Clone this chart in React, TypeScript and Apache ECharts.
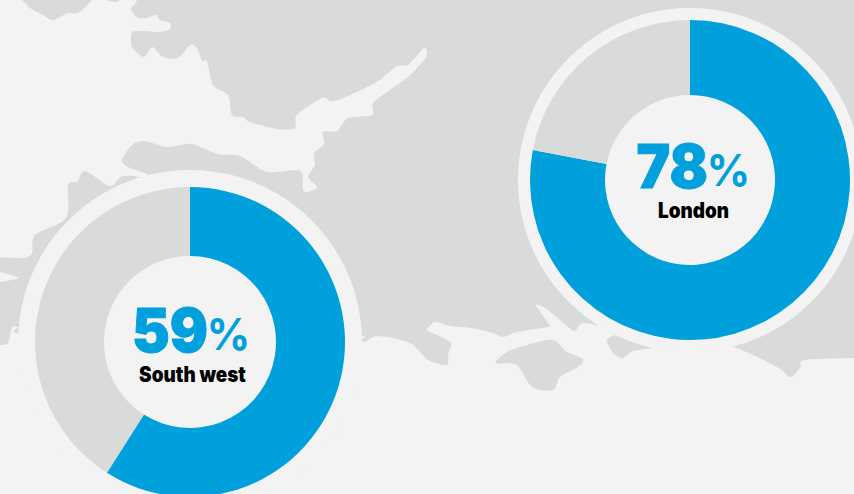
import React, { useEffect, useRef } from "react";
import * as echarts from "echarts";

const regions = ["London", "South west"];
const shares = [78, 59];
const rest = [22, 41];

const BG = "#f3f3f3";
const LAND = "#d9dbda";
const BLUE = "#00a0dd";

type P = [number, number];

const mainland: P[] = [
  [137, -20], [137, 0], [131, 9], [138, 18], [147, 18], [156, 15], [160, 20], [170, 23], [170, 29], [160, 32], [143, 31], [132, 32],
  [132, 47], [144, 57], [152, 47], [163, 57], [178, 58], [190, 45], [197, 48], [202, 61], [207, 61], [213, 85], [228, 95], [232, 115],
  [243, 117], [250, 122], [277, 129], [295, 128], [297, 115], [322, 98], [335, 101], [375, 83], [397, 66], [408, 65], [424, 48], [426, 57],
  [408, 77], [390, 90], [373, 103], [372, 115], [348, 118], [337, 131], [323, 132], [324, 144], [314, 153], [315, 165], [308, 177],
  [317, 187], [308, 192], [303, 190], [300, 171], [267, 172], [240, 156], [217, 154], [192, 144], [167, 147], [145, 141], [132, 145],
  [122, 160], [128, 167], [145, 173], [150, 178], [123, 176], [110, 186], [85, 171], [77, 182], [68, 185], [66, 218], [35, 235], [32, 253],
  [23, 258], [0, 257], [-10, 257], [-10, 272], [0, 272], [18, 278], [0, 282], [-10, 282], [-10, 345], [0, 345], [8, 343], [12, 328], [18, 327],
  [40, 335], [340, 335], [360, 340], [365, 342], [378, 336], [410, 343], [428, 360], [447, 365], [448, 355], [451, 343], [437, 335], [427, 330],
  [435, 322], [450, 326], [472, 328], [493, 333], [503, 337], [517, 332], [548, 327], [548, 323], [536, 305], [548, 310], [572, 330], [576, 330],
  [583, 323], [605, 327], [650, 335], [727, 345], [777, 367], [790, 377], [800, 368], [805, 360], [854, 358], [900, 358], [900, -20],
];
const island: P[] = [
  [496, 363], [507, 352], [527, 345], [553, 340], [567, 352], [583, 359], [578, 367], [560, 377], [553, 390], [532, 387], [517, 365],
];
const headland: P[] = [
  [607, 340], [618, 335], [640, 341], [655, 347], [633, 351], [623, 358], [613, 353],
];
const topLeft: P[] = [
  [20, -10], [26, 4], [33, 10], [43, 15], [53, 20], [68, 13], [78, 13], [92, 0], [95, -10],
];
const topSliver: P[] = [[105, -5], [107, 0], [115, 2], [120, 0], [122, -5]];

function smooth(pts: P[]): string {
  const n = pts.length;
  const k = 0.14;
  let d = `M${pts[0][0]} ${pts[0][1]}`;
  for (let i = 0; i < n; i++) {
    const p0 = pts[(i - 1 + n) % n];
    const p1 = pts[i];
    const p2 = pts[(i + 1) % n];
    const p3 = pts[(i + 2) % n];
    const c1x = p1[0] + (p2[0] - p0[0]) * k;
    const c1y = p1[1] + (p2[1] - p0[1]) * k;
    const c2x = p2[0] - (p3[0] - p1[0]) * k;
    const c2y = p2[1] - (p3[1] - p1[1]) * k;
    d += `C${c1x.toFixed(1)} ${c1y.toFixed(1)} ${c2x.toFixed(1)} ${c2y.toFixed(1)} ${p2[0]} ${p2[1]}`;
  }
  return d + "Z";
}

const landPath = [mainland, island, headland, topLeft, topSliver].map(smooth).join("");
echarts.graphic.registerShape("land", echarts.graphic.extendPath(landPath, {}));

const centers: P[] = [[690, 180], [190, 342]];
const radii: [number, number][] = [[85, 160], [86, 155]];
const textShift = [0, 2];
const HALO = 172;

function donut(i: number): any[] {
  const common = {
    type: "pie",
    center: centers[i],
    silent: true,
    label: { show: false },
    labelLine: { show: false },
    emphasis: { disabled: true },
    animation: false,
  };
  return [
    { ...common, z: 2, radius: [0, HALO], data: [{ value: 1, itemStyle: { color: BG } }] },
    {
      ...common,
      z: 3,
      radius: radii[i],
      startAngle: 90,
      clockwise: true,
      data: [
        { name: regions[i], value: shares[i], itemStyle: { color: BLUE } },
        { name: "Rest", value: rest[i], itemStyle: { color: LAND } },
      ],
    },
  ];
}

function labels(i: number): any[] {
  const [cx, cy0] = centers[i];
  const cy = cy0 + textShift[i];
  const font = "Inter, Roboto, sans-serif";
  return [
    {
      type: "text", z: 100, x: cx + 18, y: cy - 14, scaleX: 0.93,
      style: { text: String(shares[i]), font: `900 61px ${font}`, fill: BLUE, stroke: BLUE, lineWidth: 1, textAlign: "right", verticalAlign: "middle" },
    },
    {
      type: "text", z: 100, x: cx + 16.5, y: cy - 10, scaleX: 0.98,
      style: { text: "%", font: `700 44px ${font}`, fill: BLUE, textAlign: "left", verticalAlign: "middle" },
    },
    {
      type: "text", z: 100, x: cx + (i === 0 ? 3.5 : 2.5), y: cy + 31, scaleX: 0.9,
      style: { text: regions[i], font: `900 21px ${font}`, fill: "#000", textAlign: "center", verticalAlign: "middle" },
    },
  ];
}

export default function App() {
  const ref = useRef<HTMLDivElement>(null);
  useEffect(() => {
    document.body.style.margin = "0";
    const chart = echarts.init(ref.current!, undefined, { renderer: "svg" });
    chart.setOption({
      animation: false,
      backgroundColor: BG,
      series: [...donut(0), ...donut(1)],
      graphic: {
        elements: [
          { type: "land", x: 0, y: 0, z: 0, silent: true, style: { fill: LAND } },
          ...labels(0),
          ...labels(1),
        ],
      },
    });
    return () => chart.dispose();
  }, []);
  return <div ref={ref} style={{ width: 854, height: 494 }} />;
}
